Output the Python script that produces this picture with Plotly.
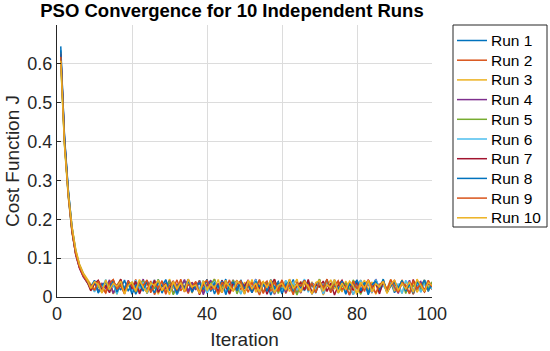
import plotly.graph_objects as go

iterations = list(range(1, 101))
run_names = ["Run 1", "Run 2", "Run 3", "Run 4", "Run 5",
             "Run 6", "Run 7", "Run 8", "Run 9", "Run 10"]

run1 = [0.645, 0.410, 0.275, 0.180, 0.118, 0.080, 0.058, 0.042, 0.021, 0.038,
        0.012, 0.033, 0.026, 0.041, 0.009, 0.030, 0.018, 0.044, 0.015, 0.035,
        0.007, 0.028, 0.040, 0.013, 0.036, 0.022, 0.045, 0.010, 0.031, 0.019,
        0.039, 0.006, 0.027, 0.042, 0.016, 0.034, 0.024, 0.043, 0.011, 0.029,
        0.037, 0.008, 0.032, 0.020, 0.046, 0.014, 0.038, 0.025, 0.041, 0.009,
        0.033, 0.017, 0.044, 0.012, 0.030, 0.036, 0.005, 0.027, 0.040, 0.019,
        0.035, 0.023, 0.045, 0.010, 0.031, 0.016, 0.039, 0.007, 0.028, 0.042,
        0.013, 0.034, 0.021, 0.043, 0.018, 0.037, 0.009, 0.030, 0.024, 0.041,
        0.012, 0.036, 0.006, 0.029, 0.044, 0.015, 0.033, 0.020, 0.038, 0.011,
        0.027, 0.040, 0.017, 0.035, 0.008, 0.031, 0.022, 0.043, 0.014, 0.036]

run2 = [0.630, 0.400, 0.265, 0.172, 0.112, 0.076, 0.055, 0.038, 0.028, 0.015,
        0.039, 0.022, 0.010, 0.034, 0.043, 0.017, 0.029, 0.008, 0.037, 0.024,
        0.045, 0.013, 0.032, 0.019, 0.041, 0.006, 0.027, 0.035, 0.011, 0.040,
        0.023, 0.044, 0.016, 0.030, 0.009, 0.038, 0.025, 0.042, 0.014, 0.033,
        0.020, 0.046, 0.010, 0.028, 0.036, 0.007, 0.031, 0.043, 0.018, 0.034,
        0.012, 0.039, 0.026, 0.005, 0.032, 0.041, 0.015, 0.037, 0.022, 0.044,
        0.009, 0.029, 0.035, 0.013, 0.040, 0.020, 0.033, 0.008, 0.027, 0.045,
        0.017, 0.036, 0.011, 0.031, 0.042, 0.014, 0.038, 0.024, 0.006, 0.030,
        0.043, 0.019, 0.034, 0.010, 0.039, 0.025, 0.041, 0.012, 0.028, 0.037,
        0.016, 0.044, 0.021, 0.033, 0.007, 0.040, 0.026, 0.013, 0.035, 0.019]

run3 = [0.612, 0.395, 0.270, 0.182, 0.122, 0.085, 0.062, 0.046, 0.033, 0.019,
        0.042, 0.027, 0.014, 0.036, 0.008, 0.031, 0.045, 0.020, 0.038, 0.011,
        0.029, 0.043, 0.016, 0.034, 0.023, 0.040, 0.007, 0.032, 0.018, 0.046,
        0.025, 0.013, 0.037, 0.028, 0.044, 0.010, 0.035, 0.021, 0.041, 0.015,
        0.030, 0.039, 0.006, 0.026, 0.043, 0.017, 0.034, 0.024, 0.009, 0.038,
        0.022, 0.045, 0.012, 0.033, 0.040, 0.019, 0.029, 0.008, 0.036, 0.027,
        0.042, 0.014, 0.031, 0.046, 0.011, 0.035, 0.023, 0.039, 0.016, 0.032,
        0.005, 0.028, 0.044, 0.020, 0.037, 0.013, 0.041, 0.025, 0.034, 0.010,
        0.030, 0.043, 0.018, 0.039, 0.007, 0.027, 0.036, 0.022, 0.045, 0.015,
        0.033, 0.009, 0.040, 0.024, 0.038, 0.012, 0.029, 0.044, 0.017, 0.031]

run4 = [0.622, 0.405, 0.262, 0.168, 0.108, 0.074, 0.052, 0.037, 0.025, 0.041,
        0.014, 0.035, 0.022, 0.044, 0.009, 0.031, 0.038, 0.017, 0.043, 0.012,
        0.034, 0.026, 0.046, 0.010, 0.029, 0.039, 0.015, 0.036, 0.021, 0.042,
        0.008, 0.033, 0.024, 0.045, 0.013, 0.037, 0.018, 0.040, 0.006, 0.030,
        0.043, 0.020, 0.035, 0.011, 0.039, 0.027, 0.044, 0.016, 0.032, 0.009,
        0.038, 0.023, 0.046, 0.014, 0.034, 0.019, 0.041, 0.007, 0.028, 0.037,
        0.012, 0.045, 0.025, 0.033, 0.010, 0.040, 0.018, 0.036, 0.029, 0.043,
        0.008, 0.031, 0.021, 0.044, 0.015, 0.038, 0.026, 0.005, 0.035, 0.042,
        0.017, 0.030, 0.039, 0.011, 0.046, 0.022, 0.034, 0.013, 0.041, 0.027,
        0.009, 0.037, 0.020, 0.043, 0.014, 0.032, 0.040, 0.018, 0.035, 0.024]

run5 = [0.605, 0.390, 0.258, 0.166, 0.112, 0.080, 0.058, 0.043, 0.018, 0.036,
        0.027, 0.011, 0.040, 0.023, 0.033, 0.007, 0.044, 0.019, 0.030, 0.038,
        0.013, 0.026, 0.042, 0.009, 0.035, 0.021, 0.045, 0.016, 0.031, 0.039,
        0.006, 0.028, 0.037, 0.014, 0.043, 0.024, 0.034, 0.010, 0.041, 0.020,
        0.032, 0.046, 0.012, 0.029, 0.038, 0.017, 0.044, 0.008, 0.035, 0.025,
        0.040, 0.015, 0.030, 0.043, 0.011, 0.036, 0.022, 0.045, 0.009, 0.033,
        0.019, 0.039, 0.027, 0.005, 0.034, 0.042, 0.016, 0.031, 0.024, 0.046,
        0.013, 0.037, 0.020, 0.041, 0.010, 0.028, 0.035, 0.018, 0.044, 0.026,
        0.007, 0.032, 0.040, 0.015, 0.038, 0.022, 0.045, 0.012, 0.030, 0.036,
        0.019, 0.043, 0.009, 0.034, 0.027, 0.041, 0.014, 0.037, 0.023, 0.039]

run6 = [0.615, 0.400, 0.268, 0.175, 0.116, 0.079, 0.057, 0.041, 0.030, 0.013,
        0.037, 0.024, 0.045, 0.016, 0.032, 0.008, 0.041, 0.026, 0.035, 0.012,
        0.043, 0.021, 0.038, 0.010, 0.029, 0.044, 0.015, 0.034, 0.040, 0.019,
        0.031, 0.006, 0.036, 0.025, 0.046, 0.014, 0.033, 0.022, 0.042, 0.009,
        0.028, 0.039, 0.017, 0.044, 0.011, 0.035, 0.027, 0.041, 0.007, 0.030,
        0.037, 0.020, 0.045, 0.013, 0.032, 0.024, 0.040, 0.016, 0.034, 0.010,
        0.043, 0.026, 0.038, 0.018, 0.029, 0.046, 0.012, 0.036, 0.021, 0.041,
        0.008, 0.033, 0.027, 0.044, 0.015, 0.039, 0.023, 0.035, 0.006, 0.031,
        0.042, 0.019, 0.037, 0.011, 0.045, 0.025, 0.030, 0.014, 0.040, 0.022,
        0.034, 0.009, 0.043, 0.028, 0.017, 0.038, 0.012, 0.033, 0.041, 0.020]

run7 = [0.625, 0.408, 0.272, 0.170, 0.110, 0.075, 0.054, 0.040, 0.016, 0.034,
        0.043, 0.020, 0.029, 0.011, 0.039, 0.025, 0.046, 0.014, 0.033, 0.022,
        0.040, 0.008, 0.031, 0.037, 0.017, 0.044, 0.012, 0.027, 0.035, 0.019,
        0.042, 0.010, 0.032, 0.024, 0.045, 0.015, 0.038, 0.006, 0.030, 0.041,
        0.021, 0.034, 0.013, 0.043, 0.026, 0.009, 0.036, 0.018, 0.040, 0.028,
        0.044, 0.011, 0.033, 0.023, 0.038, 0.007, 0.031, 0.046, 0.016, 0.035,
        0.024, 0.042, 0.012, 0.029, 0.037, 0.019, 0.045, 0.010, 0.032, 0.026,
        0.041, 0.014, 0.036, 0.005, 0.030, 0.043, 0.021, 0.034, 0.017, 0.039,
        0.011, 0.028, 0.044, 0.023, 0.035, 0.008, 0.040, 0.015, 0.032, 0.042,
        0.019, 0.037, 0.026, 0.010, 0.045, 0.021, 0.033, 0.013, 0.038, 0.027]

run8 = [0.635, 0.415, 0.278, 0.178, 0.115, 0.081, 0.059, 0.044, 0.026, 0.043,
        0.010, 0.031, 0.038, 0.018, 0.044, 0.013, 0.034, 0.023, 0.040, 0.007,
        0.029, 0.036, 0.015, 0.042, 0.024, 0.011, 0.037, 0.028, 0.045, 0.016,
        0.033, 0.009, 0.039, 0.021, 0.043, 0.012, 0.030, 0.036, 0.019, 0.046,
        0.014, 0.035, 0.025, 0.041, 0.006, 0.032, 0.038, 0.017, 0.044, 0.022,
        0.029, 0.011, 0.040, 0.027, 0.034, 0.015, 0.045, 0.020, 0.037, 0.008,
        0.031, 0.042, 0.013, 0.036, 0.024, 0.043, 0.018, 0.033, 0.010, 0.039,
        0.028, 0.045, 0.014, 0.030, 0.021, 0.041, 0.007, 0.035, 0.025, 0.044,
        0.016, 0.038, 0.012, 0.032, 0.040, 0.020, 0.046, 0.011, 0.029, 0.036,
        0.023, 0.042, 0.015, 0.034, 0.010, 0.039, 0.027, 0.044, 0.017, 0.032]

run9 = [0.618, 0.398, 0.263, 0.171, 0.111, 0.077, 0.055, 0.041, 0.031, 0.017,
        0.040, 0.024, 0.012, 0.036, 0.045, 0.020, 0.033, 0.009, 0.041, 0.027,
        0.016, 0.038, 0.030, 0.044, 0.011, 0.034, 0.022, 0.042, 0.007, 0.029,
        0.037, 0.018, 0.046, 0.013, 0.032, 0.025, 0.040, 0.010, 0.035, 0.043,
        0.019, 0.028, 0.008, 0.038, 0.023, 0.044, 0.015, 0.033, 0.041, 0.012,
        0.030, 0.036, 0.020, 0.045, 0.009, 0.034, 0.026, 0.039, 0.014, 0.042,
        0.021, 0.031, 0.006, 0.037, 0.028, 0.043, 0.017, 0.035, 0.011, 0.040,
        0.024, 0.046, 0.013, 0.032, 0.038, 0.019, 0.029, 0.005, 0.041, 0.022,
        0.036, 0.014, 0.044, 0.027, 0.010, 0.033, 0.039, 0.018, 0.045, 0.025,
        0.012, 0.037, 0.030, 0.008, 0.042, 0.020, 0.035, 0.016, 0.043, 0.026]

run10 = [0.608, 0.392, 0.268, 0.180, 0.120, 0.083, 0.060, 0.045, 0.022, 0.039,
         0.032, 0.010, 0.044, 0.019, 0.035, 0.027, 0.041, 0.008, 0.030, 0.038,
         0.015, 0.045, 0.024, 0.012, 0.036, 0.029, 0.043, 0.017, 0.033, 0.006,
         0.040, 0.021, 0.037, 0.014, 0.046, 0.026, 0.031, 0.009, 0.042, 0.018,
         0.034, 0.023, 0.045, 0.011, 0.038, 0.028, 0.016, 0.041, 0.032, 0.007,
         0.043, 0.020, 0.036, 0.013, 0.039, 0.025, 0.044, 0.010, 0.030, 0.035,
         0.018, 0.046, 0.022, 0.033, 0.012, 0.040, 0.027, 0.008, 0.037, 0.042,
         0.015, 0.031, 0.024, 0.045, 0.011, 0.036, 0.019, 0.041, 0.029, 0.006,
         0.038, 0.023, 0.043, 0.013, 0.034, 0.026, 0.040, 0.009, 0.032, 0.044,
         0.017, 0.035, 0.021, 0.039, 0.012, 0.046, 0.028, 0.014, 0.037, 0.030]

runs = [run1, run2, run3, run4, run5, run6, run7, run8, run9, run10]

x_ticks = [0, 20, 40, 60, 80, 100]
y_ticks = [0, 0.1, 0.2, 0.3, 0.4, 0.5, 0.6]
y_tick_labels = ["0", "0.1", "0.2", "0.3", "0.4", "0.5", "0.6"]

colors = ["#0072BD", "#D95319", "#EDB120", "#7E2F8E", "#77AC30",
          "#4DBEEE", "#A2142F", "#0072BD", "#D95319", "#EDB120"]

FONT = "Liberation Sans, Arial, sans-serif"
TXT = "#262626"

W, H = 550, 351
L, R, T, B = 57, 118, 25, 54
PW, PH = W - L - R, H - T - B


def px_x(p):
    return (p - L) / PW


def px_y(p):
    return (H - B - p) / PH


fig = go.Figure()
for name, vals, c in zip(run_names, runs, colors):
    fig.add_trace(go.Scatter(x=iterations, y=vals, mode="lines", name=name,
                             line=dict(color=c, width=1.5), showlegend=False))

# Legend box (drawn as paper-space shapes/annotations to match row spacing)
shapes = [dict(type="rect", xref="paper", yref="paper",
               x0=px_x(453), x1=px_x(547), y0=px_y(227), y1=px_y(25),
               line=dict(color="#262626", width=1), fillcolor="white")]
annotations = []
for i, (name, c) in enumerate(zip(run_names, colors)):
    yc = 40.5 + i * 19.7
    shapes.append(dict(type="line", xref="paper", yref="paper",
                       x0=px_x(457), x1=px_x(487), y0=px_y(yc), y1=px_y(yc),
                       line=dict(color=c, width=1.5)))
    annotations.append(dict(text=name, xref="paper", yref="paper",
                            x=px_x(489), y=px_y(yc), xanchor="left", yanchor="middle",
                            showarrow=False, font=dict(family=FONT, size=15.5, color="black")))

fig.update_layout(
    width=W, height=H,
    margin=dict(l=L, r=R, t=T, b=B),
    paper_bgcolor="white", plot_bgcolor="white",
    font=dict(family=FONT, color=TXT, size=17),
    title=dict(text="<b>PSO Convergence for 10 Independent Runs</b>",
               x=(232 / W), xanchor="center", y=1 - 11 / H, yanchor="middle",
               font=dict(family=FONT, size=18.5, color="black")),
    showlegend=False,
    shapes=shapes,
    annotations=annotations,
)

fig.update_xaxes(
    range=[0, 100], tickvals=x_ticks, ticktext=[str(v) for v in x_ticks],
    showgrid=True, gridcolor="#dcdcdc", gridwidth=1,
    showline=True, linecolor="#262626", linewidth=1, mirror=False,
    ticks="inside", ticklen=4, tickcolor="#262626",
    zeroline=False, automargin=False,
    title=dict(text="Iteration", font=dict(size=19, family=FONT), standoff=10),
    tickfont=dict(size=18, family=FONT),
)
fig.update_yaxes(
    range=[0, 0.70], tickvals=y_ticks, ticktext=y_tick_labels,
    showgrid=True, gridcolor="#dcdcdc", gridwidth=1,
    showline=True, linecolor="#262626", linewidth=1, mirror=False,
    ticks="inside", ticklen=4, tickcolor="#262626",
    zeroline=False, automargin=False,
    title=dict(text="Cost Function J", font=dict(size=19, family=FONT), standoff=2),
    tickfont=dict(size=18, family=FONT),
)

fig.write_html("out.html",
               config={"displayModeBar": False},
               post_script="document.body.style.margin='0';document.body.style.padding='0';")
